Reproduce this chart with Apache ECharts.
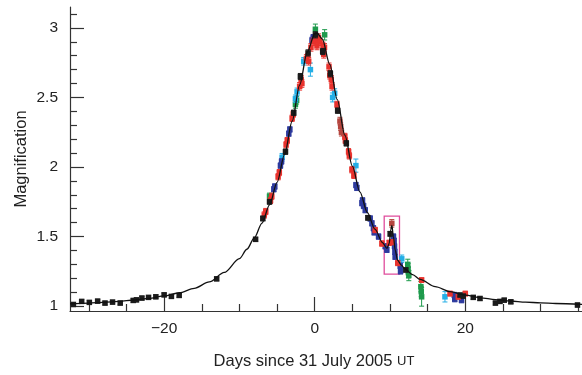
<!DOCTYPE html>
<html>
<head>
<meta charset="utf-8">
<script src="https://cdn.jsdelivr.net/npm/echarts@6/dist/echarts.min.js"></script>
<style>
  html, body { margin: 0; padding: 0; background: #fff; }
  #chart { width: 582px; height: 375px; }
</style>
</head>
<body>
<div id="chart"></div>
<script>
// model light curve [day, magnification]
const curvePts = [
  [-32.5, 1.017], [-30, 1.022], [-28, 1.027], [-26, 1.034], [-24, 1.044], [-22, 1.056],
  [-20, 1.073], [-18, 1.096], [-16, 1.128], [-14, 1.174], [-12, 1.242], [-10, 1.341],
  [-9, 1.409], [-8, 1.493], [-7, 1.597], [-6, 1.728], [-5, 1.890], [-4, 2.091],
  [-3, 2.329], [-2, 2.589], [-1, 2.824], [0, 2.956], [0.3, 2.964], [1, 2.921],
  [2, 2.737], [3, 2.484], [4, 2.229], [5, 2.006], [6, 1.821], [7, 1.672], [8, 1.553],
  [9, 1.457], [9.6, 1.415], [9.9, 1.45], [10.1, 1.55], [10.25, 1.58], [10.45, 1.50],
  [10.7, 1.40], [11.0, 1.33], [11.5, 1.295], [12, 1.267], [13, 1.226], [14, 1.192],
  [16, 1.140], [18, 1.104], [20, 1.079], [22, 1.060], [24, 1.047], [26, 1.037],
  [28, 1.029], [30, 1.023], [32, 1.019], [35.5, 1.013]
];

// observations [day, magnification, error]
const blackPts = [
  [-32.05, 1.012, 0.006], [-30.95, 1.034, 0.006], [-29.93, 1.027, 0.006], [-28.83, 1.036, 0.006],
  [-27.85, 1.022, 0.006], [-26.85, 1.029, 0.006], [-25.83, 1.022, 0.006], [-24.1, 1.041, 0.006],
  [-23.67, 1.045, 0.006], [-22.95, 1.058, 0.006], [-22.07, 1.063, 0.006], [-21.1, 1.067, 0.006],
  [-20.0, 1.081, 0.006], [-19.03, 1.070, 0.006], [-18.0, 1.077, 0.006], [-13.02, 1.196, 0.006],
  [-7.85, 1.48, 0.008], [-6.89, 1.63, 0.01], [-6.0, 1.75, 0.01], [-3.88, 2.11, 0.012],
  [-2.78, 2.39, 0.012], [-1.9, 2.65, 0.015], [-0.88, 2.82, 0.015], [0.09, 2.95, 0.015],
  [1.06, 2.83, 0.015], [2.08, 2.67, 0.015], [3.05, 2.405, 0.012], [4.2, 2.17, 0.012],
  [7.06, 1.635, 0.01], [10.02, 1.52, 0.01], [12.1, 1.26, 0.008], [19.3, 1.08, 0.006],
  [19.73, 1.072, 0.006], [21.06, 1.063, 0.006], [21.95, 1.055, 0.006], [24.0, 1.022, 0.006],
  [24.6, 1.034, 0.006], [25.17, 1.043, 0.006], [26.05, 1.031, 0.006], [34.9, 1.008, 0.006]
];
const redPts = [
  [-6.7, 1.655, 0.015], [-6.5, 1.68, 0.015], [-5.87, 1.76, 0.015], [-5.7, 1.79, 0.015],
  [-4.86, 1.93, 0.015], [-4.7, 1.96, 0.015], [-3.8, 2.16, 0.015], [-3.65, 2.19, 0.015],
  [-3.0, 2.35, 0.015], [-2.85, 2.38, 0.015], [-2.0, 2.58, 0.02], [-1.8, 2.63, 0.02],
  [-1.7, 2.60, 0.02], [-1.1, 2.78, 0.02], [-0.9, 2.80, 0.02], [-0.8, 2.76, 0.02],
  [-0.5, 2.86, 0.02], [-0.2, 2.90, 0.02], [0.2, 2.91, 0.02], [0.3, 2.87, 0.02],
  [0.5, 2.93, 0.02], [0.7, 2.90, 0.02], [1.1, 2.87, 0.02], [1.3, 2.86, 0.02],
  [1.2, 2.81, 0.02], [1.9, 2.72, 0.02], [2.0, 2.66, 0.02], [2.2, 2.63, 0.02],
  [2.3, 2.58, 0.02], [2.96, 2.45, 0.015], [4.07, 2.19, 0.015], [4.0, 2.22, 0.015],
  [4.5, 2.11, 0.015], [4.6, 2.08, 0.015], [4.94, 1.98, 0.015], [5.2, 1.94, 0.015],
  [8.03, 1.547, 0.012], [8.92, 1.45, 0.012], [9.89, 1.455, 0.012], [10.24, 1.46, 0.012],
  [11.03, 1.31, 0.012], [14.2, 1.187, 0.01], [17.97, 1.09, 0.01], [19.07, 1.067, 0.01],
  [20.0, 1.09, 0.01]
];
const darkRedPts = [
  [3.35, 2.33, 0.02], [3.45, 2.29, 0.02], [3.55, 2.25, 0.02], [10.24, 1.595, 0.02]
];
const bluePts = [
  [-5.43, 1.84, 0.012], [-5.3, 1.86, 0.012], [-4.55, 2.01, 0.012], [-4.4, 2.04, 0.012],
  [-3.44, 2.24, 0.012], [-3.3, 2.27, 0.012], [-0.36, 2.91, 0.015], [-0.2, 2.93, 0.015],
  [5.47, 1.87, 0.012], [5.6, 1.85, 0.012], [6.27, 1.74, 0.012], [6.35, 1.76, 0.012],
  [6.49, 1.72, 0.012], [6.71, 1.69, 0.012], [7.37, 1.63, 0.012], [7.6, 1.595, 0.012],
  [7.8, 1.56, 0.012], [7.9, 1.53, 0.012], [8.48, 1.50, 0.012], [9.36, 1.43, 0.012],
  [9.58, 1.405, 0.012], [10.46, 1.50, 0.012], [10.55, 1.47, 0.012], [10.6, 1.43, 0.012],
  [10.65, 1.39, 0.012], [10.68, 1.355, 0.012], [11.35, 1.29, 0.012], [11.4, 1.25, 0.012],
  [18.54, 1.08, 0.012], [18.6, 1.05, 0.012], [19.5, 1.043, 0.012]
];
const cyanPts = [
  [-4.33, 2.07, 0.02], [-2.56, 2.49, 0.02], [-2.34, 2.54, 0.02], [-1.46, 2.76, 0.02],
  [-0.57, 2.70, 0.04], [2.38, 2.50, 0.025], [2.65, 2.53, 0.025], [5.47, 2.01, 0.04],
  [11.56, 1.34, 0.02], [17.3, 1.067, 0.03]
];
const greenPts = [
  [-6.0, 1.79, 0.015], [-2.56, 2.45, 0.02], [-2.4, 2.48, 0.02], [0.09, 2.99, 0.03],
  [1.32, 2.95, 0.03], [12.36, 1.30, 0.03], [12.4, 1.27, 0.03], [12.45, 1.24, 0.03],
  [12.5, 1.22, 0.03], [14.1, 1.14, 0.03], [14.15, 1.105, 0.03], [14.2, 1.067, 0.06]
];

// the boxed planetary deviation
const boxDays = [9.23, 11.26];
const boxMag = [1.23, 1.647];

const xMinorTicks = [-30, -25, -15, -10, -5, 5, 10, 15, 25, 30, 35];
const xMajorTicks = [-20, 0, 20];
const yMinorTicks = [1.1, 1.2, 1.3, 1.4, 1.6, 1.7, 1.8, 1.9, 2.1, 2.2, 2.3, 2.4, 2.6, 2.7, 2.8, 2.9, 3.1];
const yMajorTicks = [1, 1.5, 2, 2.5, 3];

const FONT = '"Liberation Sans", Arial, Helvetica, sans-serif';
const INK = '#222';

const chart = echarts.init(document.getElementById('chart'), null, { renderer: 'canvas' });

function errorBars(params, api) {
  const x = api.value(0), y = api.value(1), e = api.value(2);
  const p = api.coord([x, y]);
  const hi = api.coord([x, y + e])[1] - 1;
  const lo = api.coord([x, y - e])[1] + 1;
  const color = api.visual('color');
  const s = 5.5;
  return {
    type: 'group',
    children: [
      { type: 'line', shape: { x1: p[0], y1: hi, x2: p[0], y2: lo }, style: { stroke: color, lineWidth: 1 } },
      { type: 'line', shape: { x1: p[0] - 2.5, y1: hi, x2: p[0] + 2.5, y2: hi }, style: { stroke: color, lineWidth: 1 } },
      { type: 'line', shape: { x1: p[0] - 2.5, y1: lo, x2: p[0] + 2.5, y2: lo }, style: { stroke: color, lineWidth: 1 } },
      { type: 'rect', shape: { x: p[0] - s / 2, y: p[1] - s / 2, width: s, height: s }, style: { fill: color } }
    ]
  };
}

function obsSeries(name, pts, color) {
  return {
    name: name,
    type: 'custom',
    renderItem: errorBars,
    itemStyle: { color: color },
    encode: { x: 0, y: 1 },
    data: pts,
    z: 3
  };
}

const tickStyle = { color: '#333', width: 1.2 };
const axisLine = { show: true, onZero: false, lineStyle: tickStyle };

const option = {
  animation: false,
  backgroundColor: '#fff',
  textStyle: { fontFamily: FONT },
  grid: { left: 70, right: 0, top: 7, bottom: 64 },
  xAxis: [
    {
      type: 'value', min: -32.5, max: 35.5,
      axisLine: axisLine,
      splitLine: { show: false },
      axisTick: { show: true, inside: true, length: 7, customValues: xMinorTicks, lineStyle: tickStyle },
      axisLabel: { show: false },
      name: '{a|Days since 31 July 2005 }{b|UT}',
      nameLocation: 'middle',
      nameGap: 42,
      nameTextStyle: {
        padding: [0, 24, 0, 0],
        rich: {
          a: { fontSize: 16.5, color: INK, fontFamily: FONT },
          b: { fontSize: 13, color: INK, fontFamily: FONT }
        }
      }
    },
    {
      type: 'value', min: -32.5, max: 35.5, position: 'bottom',
      axisLine: { show: false, onZero: false },
      splitLine: { show: false },
      axisTick: { show: true, inside: true, length: 14, customValues: xMajorTicks, lineStyle: tickStyle },
      axisLabel: {
        customValues: xMajorTicks,
        fontSize: 15.5, color: INK, margin: 10, fontFamily: FONT,
        formatter: v => (v < 0 ? '\u2212' + Math.abs(v) : String(v))
      }
    }
  ],
  yAxis: [
    {
      type: 'value', min: 0.965, max: 3.15,
      axisLine: axisLine,
      splitLine: { show: false },
      axisTick: { show: true, inside: true, length: 7, customValues: yMinorTicks, lineStyle: tickStyle },
      axisLabel: { show: false },
      name: 'Magnification',
      nameLocation: 'middle',
      nameGap: 40,
      nameTextStyle: { fontSize: 16.5, color: INK, fontFamily: FONT }
    },
    {
      type: 'value', min: 0.965, max: 3.15, position: 'left',
      axisLine: { show: false, onZero: false },
      splitLine: { show: false },
      axisTick: { show: true, inside: true, length: 14, customValues: yMajorTicks, lineStyle: tickStyle },
      axisLabel: { customValues: yMajorTicks, fontSize: 15.5, color: INK, margin: 12, fontFamily: FONT }
    }
  ],
  series: [
    obsSeries('green', greenPts, '#1e9a4c'),
    obsSeries('cyan', cyanPts, '#23aee6'),
    obsSeries('blue', bluePts, '#2d3a9e'),
    obsSeries('red', redPts, '#e8322d'),
    obsSeries('darkred', darkRedPts, '#b5463f'),
    obsSeries('black', blackPts, '#1b1b1b'),
    {
      name: 'model',
      type: 'line',
      data: curvePts,
      smooth: 0.3,
      smoothMonotone: 'x',
      showSymbol: false,
      lineStyle: { color: '#111', width: 1.3 },
      z: 4,
      markArea: {
        silent: true,
        itemStyle: { color: 'rgba(0,0,0,0)', borderColor: '#e04c9c', borderWidth: 1.3 },
        data: [[{ coord: [boxDays[0], boxMag[0]] }, { coord: [boxDays[1], boxMag[1]] }]]
      }
    }
  ]
};

chart.setOption(option);
</script>
</body>
</html>
